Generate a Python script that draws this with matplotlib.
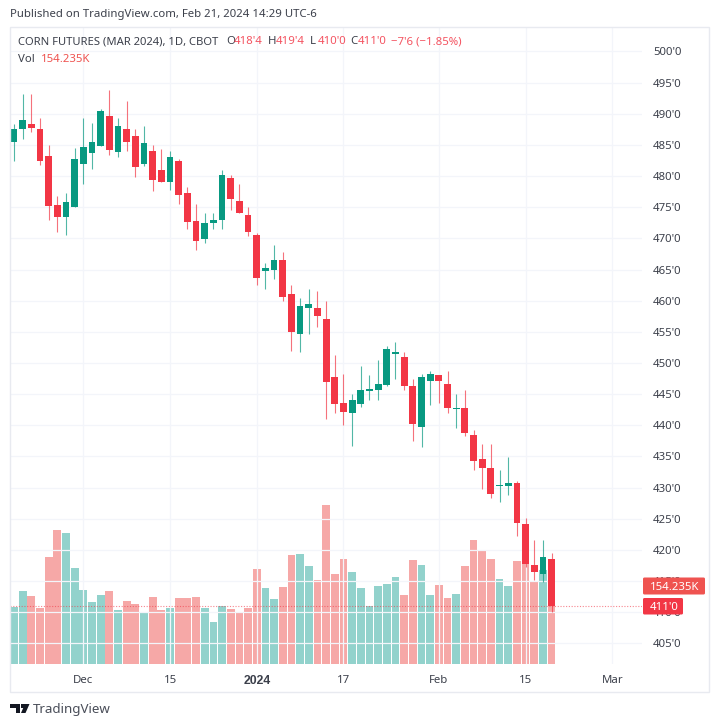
#!/usr/bin/env python3
"""Corn futures daily candles with volume, TradingView look."""

import matplotlib
matplotlib.use("Agg")
import matplotlib.pyplot as plt
from matplotlib.patches import FancyBboxPatch, Polygon, Rectangle

W, H = 720, 726

UP = "#089981"
DOWN = "#F23645"
VOL_UP = "#26A69A"
VOL_DOWN = "#EF5350"
GRID = "#F3F5FA"
TEXT = "#3C404B"

# OHLC in cents per bushel (Nov 20 2023 - Feb 21 2024)
opens = [485.4, 487.5, 488.3, 487.5, 483.2, 475.3, 473.4, 475.1, 481.9, 483.7,
         484.9, 489.6, 483.9, 487.5, 486.5, 481.9, 484.0, 481.0, 479.1, 482.5,
         477.3, 472.8, 469.9, 472.4, 472.9, 479.7, 476.0, 473.8, 470.5, 464.7,
         464.9, 466.5, 461.0, 454.7, 458.9, 458.9, 457.1, 447.8, 443.6, 441.9,
         443.5, 445.5, 445.7, 446.5, 451.4, 451.0, 446.3, 439.7, 447.1, 448.0,
         446.6, 442.6, 442.8, 438.5, 434.6, 433.1, 430.2, 430.2, 430.8, 424.1,
         417.5, 416.2, 418.5]
highs = [488.4, 493.2, 493.2, 489.3, 485.0, 476.8, 477.3, 484.5, 489.4, 488.5,
         490.8, 493.8, 489.3, 492.0, 487.5, 488.0, 485.0, 484.3, 484.0, 482.7,
         478.3, 475.5, 474.1, 474.0, 481.0, 480.2, 478.8, 475.1, 470.8, 466.1,
         468.9, 467.8, 462.5, 460.5, 461.8, 461.6, 460.0, 451.3, 448.2, 445.1,
         449.5, 448.0, 450.5, 452.8, 453.3, 451.8, 447.5, 448.2, 448.7, 448.1,
         448.7, 445.1, 445.6, 439.3, 437.0, 437.0, 432.8, 434.9, 431.0, 425.1,
         421.6, 421.6, 419.5]
lows = [482.5, 486.0, 487.1, 481.8, 473.0, 471.0, 470.5, 475.0, 478.8, 481.2,
        484.8, 483.4, 483.0, 484.0, 479.8, 481.7, 477.6, 479.0, 477.8, 475.5,
        471.5, 468.1, 469.2, 471.5, 471.5, 474.6, 474.0, 470.4, 462.5, 461.8,
        463.5, 460.0, 452.0, 451.8, 454.6, 455.8, 441.0, 442.0, 440.0, 436.7,
        443.0, 444.1, 444.1, 446.3, 447.5, 445.6, 437.5, 436.5, 443.3, 443.6,
        442.0, 439.5, 438.3, 432.8, 429.8, 428.3, 427.7, 428.8, 422.3, 417.3,
        415.1, 414.9, 410.0]
closes = [487.5, 489.0, 487.7, 482.4, 475.2, 473.4, 475.8, 482.7, 484.7, 485.5,
          490.4, 484.2, 488.0, 485.4, 481.4, 485.3, 479.4, 479.1, 483.0, 477.0,
          472.7, 469.6, 472.5, 473.0, 480.2, 476.4, 474.1, 471.1, 463.7, 465.3,
          466.5, 460.6, 455.0, 459.2, 459.5, 457.6, 446.9, 443.5, 442.2, 444.1,
          445.6, 445.8, 446.6, 452.2, 451.8, 446.3, 440.2, 447.7, 448.2, 447.1,
          442.7, 442.8, 438.7, 434.3, 433.2, 428.9, 430.5, 430.7, 424.3, 417.7,
          416.4, 418.8, 411.0]

# volume in thousands of contracts
volumes = [112, 143.7, 133.8, 110.7, 211.5, 264.3, 258.3, 189.8, 146.3, 123.2,
           137.1, 145, 106.1, 124.6, 118, 101.5, 131.8, 107.4, 110.7, 130.5,
           130.5, 131.8, 110.7, 82.4, 115.3, 108.7, 101.5, 110.7, 188.5, 149.6,
           129.2, 152.9, 214.8, 216.8, 194.4, 166.7, 314.3, 177.3, 206.9, 182.5,
           149.6, 114, 154.2, 157.5, 171.3, 137.1, 205.6, 196.4, 137.1, 155.5,
           130.5, 138.4, 194.4, 245.8, 224.7, 207.6, 167.4, 154.2, 203, 203,
           162.8, 186, 154.235]

price_ticks = list(range(405, 505, 5))
date_tick_pos = [8, 18, 28, 38, 49, 59, 69]
date_tick_labels = ["Dec", "15", "2024", "17", "Feb", "15", "Mar"]

header_parts = [("O", "k"), ("418'4", "r"), ("H", "k"), ("419'4", "r"),
                ("L", "k"), ("410'0", "r"), ("C", "k"), ("411'0", "r"),
                ("−7'6 (−1.85%)", "r")]
header_x = [226, 234, 268, 276, 310, 318, 350, 358, 391]

plt.rcParams["font.family"] = ["Noto Sans", "DejaVu Sans"]
plt.rcParams["font.size"] = 8.2

fig = plt.figure(figsize=(W / 100, H / 100), dpi=100)


def fx(x):
    return x / W


def fy(y):
    return 1 - y / H


# outer frame of the chart
fig.add_artist(Rectangle((fx(10), fy(691.5)), fx(699), 664.5 / H, transform=fig.transFigure,
                         fill=False, edgecolor="#E8EAF0", linewidth=1))

ax = fig.add_axes([fx(10), fy(664), fx(632), 637 / H])
ax_vol = ax.twinx()
ax_vol.set_zorder(ax.get_zorder() - 1)
ax.patch.set_visible(False)

xs = list(range(len(closes)))
is_up = [c >= o for o, c in zip(opens, closes)]

# volume sits behind the candles
vol_colors = [VOL_UP if up else VOL_DOWN for up in is_up]
ax_vol.bar(xs, volumes, width=0.9, color=vol_colors, alpha=0.5, linewidth=0)
ax_vol.set_ylim(0, 1259)
ax_vol.set_yticks([])

for x, o, h, l, c, up in zip(xs, opens, highs, lows, closes, is_up):
    col = UP if up else DOWN
    ax.vlines(x, l, h, color=col, linewidth=0.8, alpha=0.7, zorder=3)
    ax.bar(x, abs(c - o), bottom=min(o, c), width=0.78, color=col, linewidth=0, zorder=4)

ax.axhline(closes[-1], color=DOWN, linewidth=0.8, linestyle=(0, (1, 1.5)), alpha=0.6, zorder=5)

ax.set_xlim(-0.46, 72.43)
ax.set_ylim(401.69, 503.93)
ax.yaxis.tick_right()
ax.set_yticks(price_ticks)
ax.set_yticklabels([f"{p}'0" for p in price_ticks], color=TEXT)
ax.set_xticks(date_tick_pos)
ax.set_xticklabels(date_tick_labels, color=TEXT)
bold_label = ax.get_xticklabels()[2]
bold_label.set_family("Liberation Sans")
bold_label.set_fontweight("bold")
bold_label.set_fontsize(8.8)
ax.tick_params(axis="both", length=0)
ax.tick_params(axis="y", pad=8)
ax.tick_params(axis="x", pad=8)
ax.grid(True, color=GRID, linewidth=0.9)
ax.set_axisbelow(True)
for axis in (ax, ax_vol):
    for spine in axis.spines.values():
        spine.set_visible(False)

# header texts
fig.text(fx(10), fy(15), "Published on TradingView.com, Feb 21, 2024 14:29 UTC-6",
         color=TEXT, fontsize=8.2, va="center")
fig.text(fx(18), fy(42), "CORN FUTURES (MAR 2024), 1D, CBOT", color=TEXT, fontsize=8.1, va="center")
for (txt, kind), x in zip(header_parts, header_x):
    fig.text(fx(x), fy(42), txt, color=DOWN if kind == "r" else TEXT, fontsize=8.2,
             va="center", alpha=0.85 if kind == "r" else 1)
fig.text(fx(18), fy(59), "Vol", color=TEXT, fontsize=8.2, va="center")
fig.text(fx(41), fy(59), "154.235K", color=VOL_DOWN, fontsize=8.2, va="center")


def price_label(x0, x1, y0, y1, txt, color):
    fig.add_artist(FancyBboxPatch((fx(x0), fy(y1)), fx(x1 - x0), (y1 - y0) / H,
                                  boxstyle="round,pad=0,rounding_size=0.002",
                                  transform=fig.transFigure, facecolor=color, linewidth=0,
                                  zorder=10))
    fig.text(fx(650), fy((y0 + y1) / 2), txt, color="white", fontsize=8.2, va="center_baseline",
             ha="left", zorder=11)


price_label(643, 705, 577.5, 594.5, "154.235K", VOL_DOWN)
price_label(643, 683, 598, 614.5, "411'0", DOWN)

# TradingView logo and name
logo = "#131722"
fig.add_artist(Polygon([(fx(10), fy(704)), (fx(20), fy(704)), (fx(20), fy(713)), (fx(15.5), fy(713)),
                        (fx(15.5), fy(708)), (fx(10), fy(708))],
                       transform=fig.transFigure, facecolor=logo, linewidth=0))
fig.add_artist(Polygon([(fx(25), fy(704)), (fx(29.5), fy(704)), (fx(25.5), fy(713)), (fx(21), fy(713))],
                       transform=fig.transFigure, facecolor=logo, linewidth=0))
fig.add_artist(Rectangle((fx(21), fy(708)), fx(3.5), 4 / H, transform=fig.transFigure,
                         facecolor=logo, linewidth=0))
fig.text(fx(33), fy(709), "TradingView", color="#4A4E59", fontsize=9.6, va="center")

fig.savefig("out.png", dpi=100)
